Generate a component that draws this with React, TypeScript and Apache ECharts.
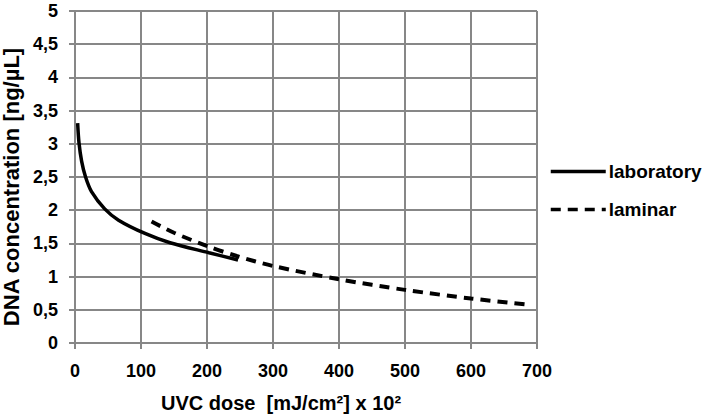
import React, { useEffect, useRef } from "react";
import * as echarts from "echarts";

const xTicks = [0, 100, 200, 300, 400, 500, 600, 700];
const yTicks = [0, 0.5, 1, 1.5, 2, 2.5, 3, 3.5, 4, 4.5, 5];

const labDose = [4, 6, 10, 16, 25, 45, 66, 106, 144, 203, 247];
const labConc = [3.31, 3.02, 2.74, 2.5, 2.28, 2.02, 1.85, 1.65, 1.51, 1.36, 1.25];

const lamDose = [116, 150, 203, 245, 300, 400, 500, 600, 685];
const lamConc = [1.83, 1.66, 1.45, 1.31, 1.16, 0.96, 0.8, 0.67, 0.58];

const FONT = "'Liberation Sans', Arial, sans-serif";
const GRID = "#878787";

export default function App() {
  const ref = useRef<HTMLDivElement>(null);
  useEffect(() => {
    if (!ref.current) return;
    const chart = echarts.init(ref.current, undefined, { renderer: "svg" });
    chart.setOption({
      animation: false,
      backgroundColor: "#ffffff",
      textStyle: { fontFamily: FONT },
      grid: { left: 75, right: 172, top: 11, bottom: 73, outerBoundsMode: "none", containLabel: false },
      legend: {
        orient: "vertical",
        left: 549,
        top: 162,
        padding: 0,
        itemWidth: 55,
        itemHeight: 14,
        itemGap: 19,
        itemStyle: { opacity: 0 },
        lineStyle: { width: 3.5 },
        textStyle: { fontFamily: FONT, fontWeight: "bold", fontSize: 19, color: "#000", padding: [0, 0, 0, -2] },
        data: ["laboratory", "laminar"],
      },
      xAxis: {
        type: "value",
        min: xTicks[0],
        max: xTicks[xTicks.length - 1],
        interval: 100,
        name: "UVC dose  [mJ/cm²] x 10²",
        nameLocation: "middle",
        nameGap: 50,
        nameTextStyle: {
          fontFamily: FONT,
          fontWeight: "bold",
          fontSize: 20,
          color: "#000",
          padding: [0, 50, 0, 0],
        },
        axisLine: { show: true, lineStyle: { color: GRID, width: 2 } },
        axisTick: { show: true, length: 6, lineStyle: { color: GRID, width: 2 } },
        axisLabel: { margin: 19, fontFamily: FONT, fontWeight: "bold", fontSize: 18, color: "#000" },
        splitLine: { show: true, lineStyle: { color: GRID, width: 2 } },
      },
      yAxis: {
        type: "value",
        min: yTicks[0],
        max: yTicks[yTicks.length - 1],
        interval: 0.5,
        name: "DNA concentration [ng/µL]",
        nameLocation: "middle",
        nameGap: 47,
        nameRotate: 90,
        nameTextStyle: { fontFamily: FONT, fontWeight: "bold", fontSize: 22, color: "#000", padding: [0, 20, 0, 0] },
        axisLine: { show: true, lineStyle: { color: GRID, width: 2 } },
        axisTick: { show: true, length: 6, lineStyle: { color: GRID, width: 2 } },
        axisLabel: {
          margin: 17,
          fontFamily: FONT,
          fontWeight: "bold",
          fontSize: 18,
          color: "#000",
          formatter: (v: number) => String(v).replace(".", ","),
        },
        splitLine: { show: true, lineStyle: { color: GRID, width: 2 } },
      },
      series: [
        {
          name: "laboratory",
          type: "line",
          smooth: 0.3,
          symbol: "none",
          lineStyle: { color: "#000", width: 3.5, type: "solid" },
          itemStyle: { color: "#000" },
          data: labDose.map((d, i) => [d, labConc[i]]),
        },
        {
          name: "laminar",
          type: "line",
          smooth: 0.3,
          symbol: "none",
          lineStyle: { color: "#000", width: 4, type: [10, 7] },
          itemStyle: { color: "#000" },
          data: lamDose.map((d, i) => [d, lamConc[i]]),
        },
      ],
    });
    return () => chart.dispose();
  }, []);
  return (
    <div
      ref={ref}
      style={{ position: "fixed", left: 0, top: 0, width: 709, height: 416 }}
    />
  );
}
